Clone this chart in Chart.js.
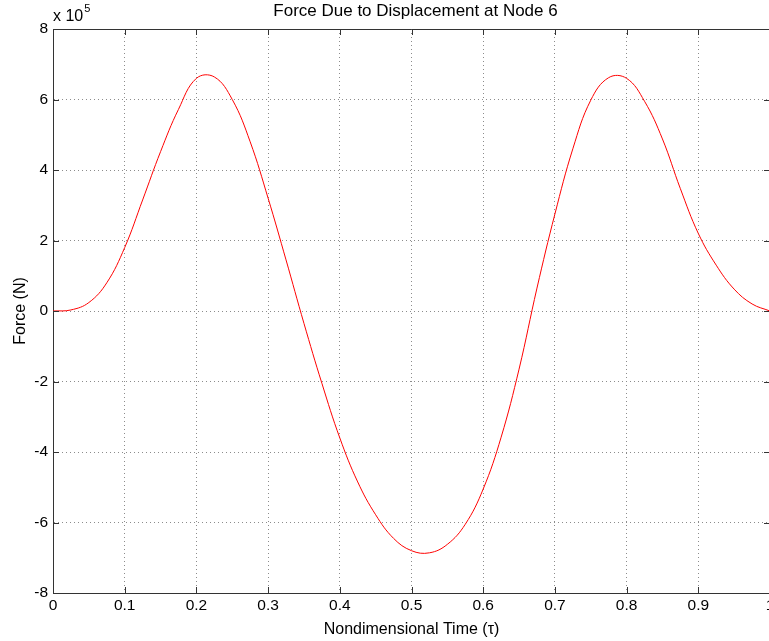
<!DOCTYPE html>
<html lang="en">
<head>
  <meta charset="UTF-8">
  <title>Force Due to Displacement at Node 6</title>
  <script src="https://cdn.jsdelivr.net/npm/chart.js"></script>
  <style>
    html, body {
      margin: 0;
      padding: 0;
      background: #fff;
      overflow: hidden;
    }
    #wrap {
      position: relative;
      width: 790px;
      height: 641px;
    }
  </style>
</head>
<body>

  <div id="wrap"><canvas id="forceChart"></canvas></div>

  <script>
    // nondimensional time and force (in units of 10^5 N)
    const tau = [0, 0.025, 0.05, 0.075, 0.1, 0.125, 0.15, 0.175, 0.2, 0.225,
      0.25, 0.275, 0.3, 0.325, 0.35, 0.375, 0.4, 0.425, 0.45, 0.475,
      0.5, 0.525, 0.55, 0.575, 0.6, 0.625, 0.65, 0.675, 0.7, 0.725,
      0.75, 0.775, 0.8, 0.825, 0.85, 0.875, 0.9, 0.925, 0.95, 0.975, 1.0];
    const force = [0, 0.03, 0.24, 0.8, 1.8, 3.15, 4.52, 5.72, 6.6, 6.64,
      6.0, 4.8, 3.2, 1.45, -0.35, -2.05, -3.6, -4.85, -5.78, -6.45,
      -6.8, -6.86, -6.62, -6.05, -5.05, -3.58, -1.65, 0.65, 2.75, 4.6,
      5.98, 6.62, 6.6, 5.95, 4.88, 3.47, 2.2, 1.3, 0.62, 0.2, 0];

    const xTickLabels = ['0', '0.1', '0.2', '0.3', '0.4', '0.5', '0.6', '0.7', '0.8', '0.9', '1'];
    const yTickLabels = ['-8', '-6', '-4', '-2', '0', '2', '4', '6', '8'];

    const FONT = "'Liberation Sans', Arial, Helvetica, sans-serif";
    const AXIS = '#333';

    // MATLAB style box: inward ticks, top/right border, title and exponent label
    const matlabBox = {
      id: 'matlabBox',
      afterDraw(chart) {
        const { ctx, chartArea: a, scales } = chart;
        ctx.save();
        ctx.strokeStyle = AXIS;
        ctx.lineWidth = 1;
        ctx.beginPath();
        ctx.moveTo(a.left, a.top + 0.5);
        ctx.lineTo(a.right, a.top + 0.5);
        ctx.moveTo(a.right - 0.5, a.top);
        ctx.lineTo(a.right - 0.5, a.bottom);
        scales.x.ticks.forEach(t => {
          const x = Math.round(scales.x.getPixelForValue(t.value)) + 0.5;
          ctx.moveTo(x, a.bottom); ctx.lineTo(x, a.bottom - 6);
          ctx.moveTo(x, a.top); ctx.lineTo(x, a.top + 6);
        });
        scales.y.ticks.forEach(t => {
          const y = Math.round(scales.y.getPixelForValue(t.value)) + 0.5;
          ctx.moveTo(a.left, y); ctx.lineTo(a.left + 6, y);
          ctx.moveTo(a.right, y); ctx.lineTo(a.right - 6, y);
        });
        ctx.stroke();

        ctx.fillStyle = '#000';
        ctx.textAlign = 'center';
        ctx.textBaseline = 'middle';
        ctx.font = '17px ' + FONT;
        ctx.fillText('Force Due to Displacement at Node 6', (a.left + a.right) / 2 + 4, 11);

        ctx.textAlign = 'left';
        ctx.textBaseline = 'alphabetic';
        ctx.font = '16px ' + FONT;
        ctx.fillText('x 10', a.left, 21);
        const w = ctx.measureText('x 10').width;
        ctx.font = '11px ' + FONT;
        ctx.fillText('5', a.left + w + 1, 12);
        ctx.restore();
      }
    };

    const ctx = document.getElementById('forceChart').getContext('2d');
    new Chart(ctx, {
      type: 'line',
      data: {
        datasets: [{
          label: 'Force',
          data: tau.map((t, i) => ({ x: t, y: force[i] })),
          borderColor: '#ff0000',
          borderWidth: 1,
          pointRadius: 0,
          fill: false,
          tension: 0.4
        }]
      },
      options: {
        responsive: true,
        maintainAspectRatio: false,
        animation: false,
        layout: {
          padding: { top: 29, right: 20, left: 0, bottom: 0 }
        },
        plugins: {
          legend: { display: false },
          tooltip: { enabled: false }
        },
        scales: {
          x: {
            type: 'linear',
            min: 0,
            max: 1,
            afterFit: s => { s.height = 48; },
            afterBuildTicks: s => { s.ticks = xTickLabels.map(l => ({ value: parseFloat(l) })); },
            ticks: {
              color: '#000',
              font: { family: FONT, size: 15.5 },
              padding: 3,
              maxRotation: 0,
              callback: (v, i) => xTickLabels[i]
            },
            grid: {
              color: '#8c8c8c',
              drawTicks: false
            },
            border: { color: AXIS, dash: [1, 3] },
            title: {
              display: true,
              text: 'Nondimensional Time (\u03c4)',
              color: '#000',
              font: { family: FONT, size: 16 },
              padding: { top: 2, bottom: 2 }
            }
          },
          y: {
            min: -8,
            max: 8,
            afterFit: s => { s.width = 53; },
            afterBuildTicks: s => { s.ticks = yTickLabels.map(l => ({ value: parseFloat(l) })); },
            ticks: {
              color: '#000',
              font: { family: FONT, size: 15.5 },
              padding: 5,
              callback: (v, i) => yTickLabels[i]
            },
            grid: {
              color: '#8c8c8c',
              drawTicks: false
            },
            border: { color: AXIS, dash: [1, 3] },
            title: {
              display: true,
              text: 'Force (N)',
              color: '#000',
              font: { family: FONT, size: 16 },
              padding: { top: 11, bottom: 4 }
            }
          }
        }
      },
      plugins: [matlabBox]
    });
  </script>

</body>
</html>
